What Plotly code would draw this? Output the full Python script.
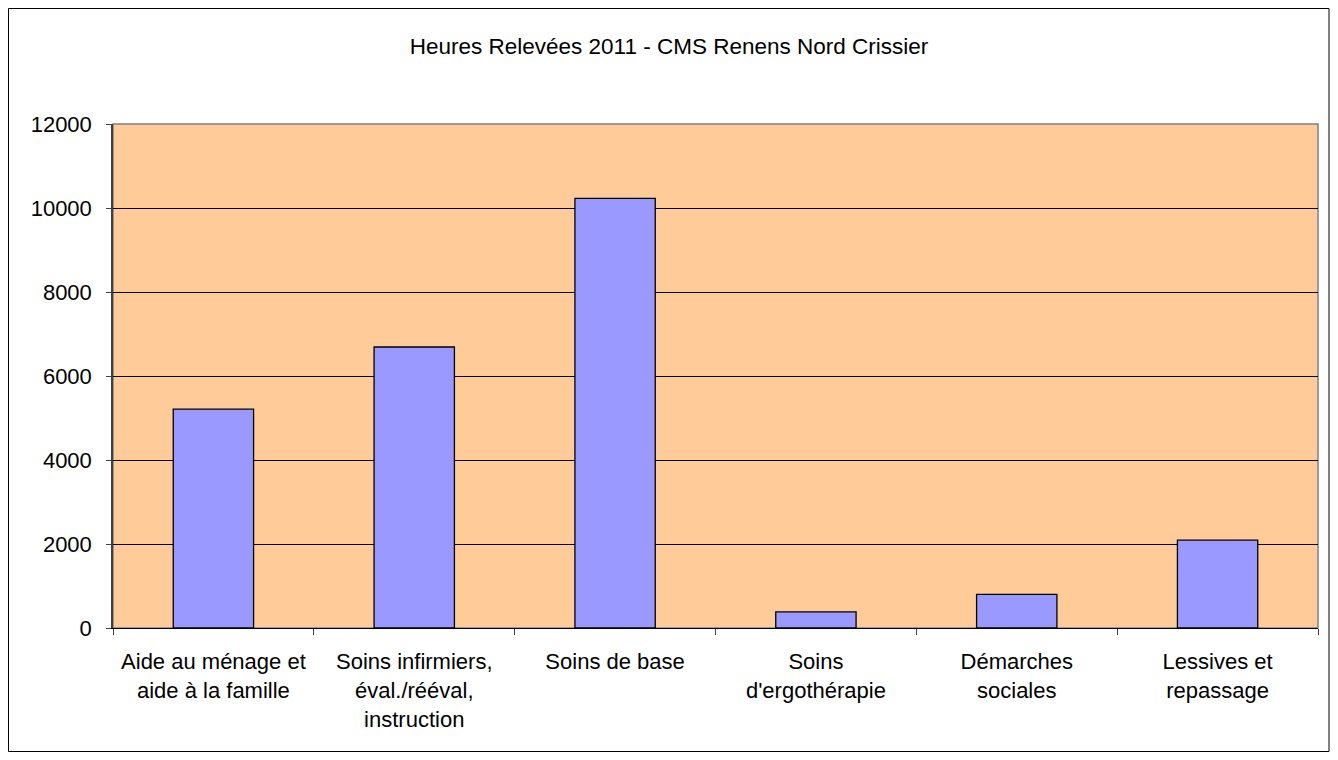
import plotly.graph_objects as go

categories = [
    "Aide au ménage et<br>aide à la famille",
    "Soins infirmiers,<br>éval./rééval,<br>instruction",
    "Soins de base",
    "Soins<br>d'ergothérapie",
    "Démarches<br>sociales",
    "Lessives et<br>repassage",
]
values = [5210, 6690, 10230, 385, 800, 2090]
y_ticks = [0, 2000, 4000, 6000, 8000, 10000, 12000]
y_tick_labels = [str(v) for v in y_ticks]

# The page body has an 8px margin; the figure spans the chart's outer frame.
W, H = 1322, 744
L, T = 105, 116
R = W - 1310
B = H - 620

fig = go.Figure(go.Bar(
    x=categories, y=values,
    marker=dict(color="#9999FF", line=dict(color="black", width=1.3)),
    width=0.4,
))

fig.update_layout(
    width=W, height=H,
    margin=dict(l=L, r=R, t=T, b=B),
    paper_bgcolor="white",
    plot_bgcolor="#FFCC99",
    font=dict(family="Liberation Sans, Arial, sans-serif", size=22, color="black"),
    showlegend=False,
    title=dict(text="Heures Relevées 2011 - CMS Renens Nord Crissier",
               x=0.5, xref="container", xanchor="center",
               y=1 - 38 / H, yanchor="middle",
               font=dict(size=22.5)),
    shapes=[
        dict(type="rect", xref="paper", yref="paper",
             x0=(0.5 - L) / (W - L - R), x1=(W - 1 - L) / (W - L - R),
             y0=-(B - 0.5) / (H - T - B), y1=(H - B - 0.5) / (H - T - B),
             line=dict(color="black", width=1), layer="below"),
        dict(type="rect", xref="paper", yref="paper",
             x0=0, x1=1, y0=0, y1=1,
             line=dict(color="#808080", width=1.5), layer="below"),
    ],
)

fig.update_xaxes(
    type="category",
    tickson="boundaries",
    ticks="outside", ticklen=6, tickcolor="#404040",
    showline=True, linecolor="black", linewidth=1,
    showgrid=False,
    tickfont=dict(size=22),
    ticklabelstandoff=14,
)
fig.update_yaxes(
    range=[0, 12000],
    tickvals=y_ticks,
    ticktext=y_tick_labels,
    ticks="outside", ticklen=5, tickcolor="#404040",
    showline=True, linecolor="#404040", linewidth=1.5,
    showgrid=True, gridcolor="black", gridwidth=1,
    zeroline=False,
    tickfont=dict(size=22),
    ticklabelstandoff=10,
)

fig.write_html("out.html")
